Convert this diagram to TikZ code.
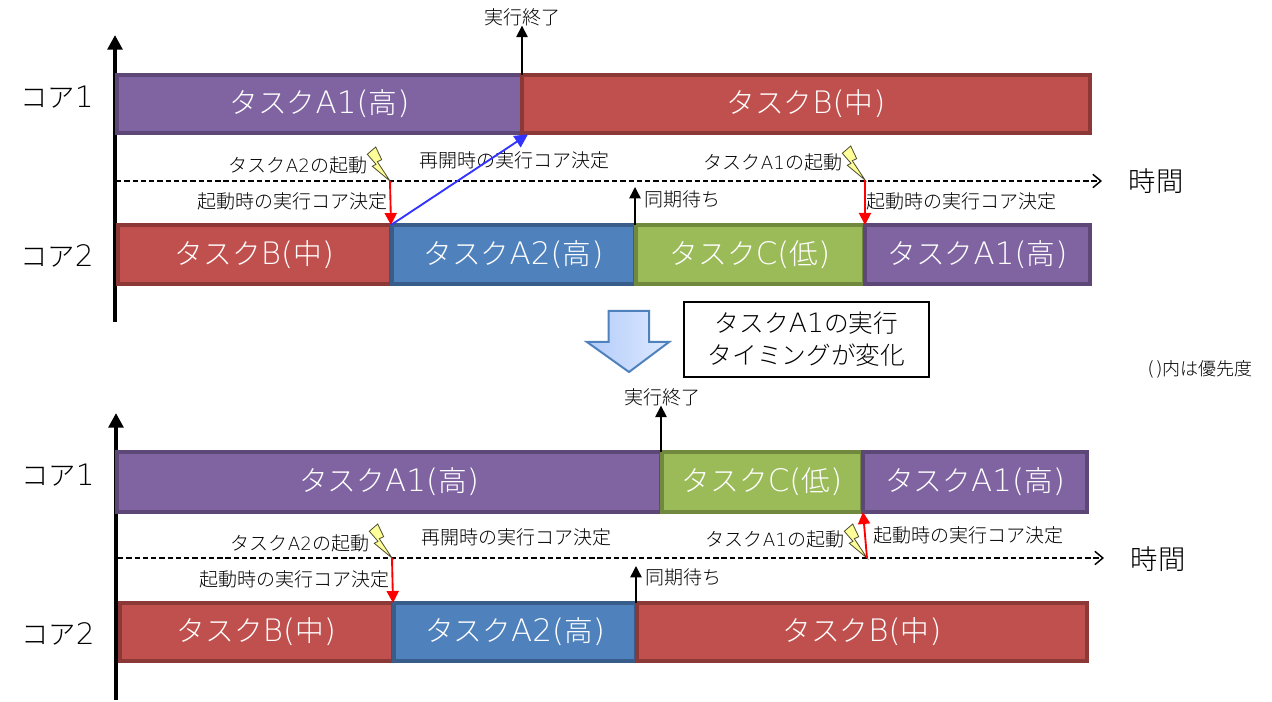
\documentclass[tikz,border=0pt]{standalone}
\usepackage{fontspec}
\setmainfont{Noto Sans CJK JP Light}
\newfontfamily\latinpart[Scale=1.08]{DejaVu Sans ExtraLight}
\newfontfamily\latinsmall[Scale=0.96]{DejaVu Sans ExtraLight}
\usetikzlibrary{arrows.meta,shadings}
\definecolor{purpF}{HTML}{8064A2}\definecolor{purpD}{HTML}{5C4776}
\definecolor{redF}{HTML}{C0504D}\definecolor{redD}{HTML}{8C3836}
\definecolor{bluF}{HTML}{4F81BD}\definecolor{bluD}{HTML}{385D8A}
\definecolor{grnF}{HTML}{9BBB59}\definecolor{grnD}{HTML}{71893F}
\definecolor{arrowL}{HTML}{B3CCFA}\definecolor{arrowR}{HTML}{DDE9FF}
\definecolor{boltF}{HTML}{FFFF99}
\newcommand{\fsz}[1]{\fontsize{#1}{#1}\selectfont}
\newcommand{\la}[1]{{\latinpart #1}}
\newcommand{\las}[1]{{\latinsmall #1}}
\tikzset{
  x=0.75pt,y=-0.75pt,
  every node/.style={outer sep=0pt,inner sep=0pt,align=center},
  taskbar/.style={line width=2.6pt,text=white,font=\fsz{21.5}},
  purplebar/.style={taskbar,draw=purpD,fill=purpF},
  redbar/.style={taskbar,draw=redD,fill=redF},
  bluebar/.style={taskbar,draw=bluD,fill=bluF},
  greenbar/.style={taskbar,draw=grnD,fill=grnF},
  corelabel/.style={font=\fsz{20.5},text=black},
  smalllabel/.style={font=\fsz{14.25},text=black},
  axisline/.style={line width=3pt,-{Triangle[length=11pt,width=11pt]}},
  timeline/.style={line width=1.1pt,dash pattern=on 4pt off 2.2pt,-{Straight Barb[length=6pt,width=10pt]}},
  eventup/.style={line width=1.1pt,-{Triangle[length=8.5pt,width=8.5pt]}},
  redarrow/.style={line width=1.4pt,red,-{Triangle[length=9pt,width=9pt]}},
  bluearrow/.style={line width=1.4pt,blue!80!white,-{Triangle[length=10pt,width=10pt]}},
  boltshape/.style={draw=black!70!boltF,line width=0.6pt,fill=boltF,line join=miter},
}
% task bar spanning x1..x2, y1..y2; its text sits slightly above the middle
\newcommand{\taskbar}[7]{\node[#6,minimum width={(#3-#2)*0.75pt},minimum height={(#5-#4)*0.75pt}] (#1) at ({(#2+#3)/2},{(#4+#5)/2}) {\raisebox{2pt}{#7}};}
% lightning bolt whose lower tip lies on a named coordinate
\newcommand{\bolt}[1]{\filldraw[boltshape,shift={(#1)}] (-22.7,-26.7) -- (-14.3,-34) -- (-8.3,-21.3) -- (-12.7,-19.3) -- (0,0) -- (-17.7,-14.7) -- (-14,-16.7) -- cycle;}
\begin{document}
\begin{tikzpicture}
\useasboundingbox (0,0) rectangle (1272,702);

% upper schedule: time and core axes
\coordinate (axA0) at (115,322); \coordinate (axA1) at (115,35);
\coordinate (tA0) at (116,181); \coordinate (tA1) at (1102,181);
\draw[axisline] (axA0) -- (axA1);
\draw[timeline] (tA0) -- (tA1);
\node[corelabel] (timeA) at (1156,181) {時間};
\node[corelabel] (coreA1) at (57,97) {コア\la{1}};
\node[corelabel] (coreA2) at (57,256) {コア\la{2}};

\taskbar{a1}{117}{522}{75}{133}{purplebar}{タスク\la{A1(}高\la{)}}
\taskbar{a2}{522}{1090}{75}{133}{redbar}{タスク\la{B(}中\la{)}}
\taskbar{a3}{118}{391}{225}{284}{redbar}{タスク\la{B(}中\la{)}}
\taskbar{a4}{392}{635}{225}{284}{bluebar}{タスク\la{A2(}高\la{)}}
\taskbar{a5}{636}{864}{225}{284}{greenbar}{タスク\la{C(}低\la{)}}
\taskbar{a6}{865}{1090}{225}{284}{purplebar}{タスク\la{A1(}高\la{)}}

\node[smalllabel] (endA) at (522,17) {実行終了};
\draw[eventup] (a1.north east) -- (a1.north east |- endA.south);
\node[smalllabel,anchor=east] (lA1) at (367,165) {タスク\las{A2}の起動};
\node[smalllabel,anchor=east] (lA2) at (387,201) {起動時の実行コア決定};
\node[smalllabel] (lA3) at (514,160) {再開時の実行コア決定};
\node[smalllabel,anchor=east] (lA4) at (842,162) {タスク\las{A1}の起動};
\node[smalllabel,anchor=west] (lA5) at (866,201) {起動時の実行コア決定};
\node[smalllabel,anchor=west] (lA6) at (644,199) {同期待ち};
\coordinate (syncA) at (635,187);
\draw[eventup] (a4.north east) -- (syncA);
\coordinate (boltA1) at (390,181);
\coordinate (boltA2) at (865,180);
\bolt{boltA1}
\bolt{boltA2}
\draw[redarrow] (boltA1) -- (a3.north east);
\draw[redarrow] (boltA2) -- (a6.north west);
\draw[bluearrow] (a3.north east) -- ([shift={(4.5pt,-1pt)}]a2.south west);

% transition between the two schedules
\path[left color=arrowL,right color=arrowR,draw=bluF,line width=1.5pt,line join=miter]
  (608.5,311) -- (649,311) -- (649,342) -- (669,342) -- (629,372) -- (587,342) -- (608.5,342) -- cycle;
\node[draw=black,line width=1.5pt,fill=white,minimum width=183.75pt,minimum height=56.25pt,font=\fsz{18.5},text=black] (note) at (806.5,339.5) {\raisebox{2pt}{タスク\la{A1}の実行}\\[5pt]\raisebox{2pt}{タイミングが変化}};
\node[font=\fsz{13.5},text=black] (prio) at (1200,369) {\la{()}内は優先度};

% lower schedule
\coordinate (axB0) at (116,700); \coordinate (axB1) at (116,413);
\coordinate (tB0) at (118,558); \coordinate (tB1) at (1104,558);
\draw[axisline] (axB0) -- (axB1);
\draw[timeline] (tB0) -- (tB1);
\node[corelabel] (timeB) at (1158,559) {時間};
\node[corelabel] (coreB1) at (58,475) {コア\la{1}};
\node[corelabel] (coreB2) at (58,634) {コア\la{2}};

\taskbar{b1}{117}{661}{452}{512}{purplebar}{タスク\la{A1(}高\la{)}}
\taskbar{b2}{662}{862}{452}{512}{greenbar}{タスク\la{C(}低\la{)}}
\taskbar{b3}{863}{1087}{452}{512}{purplebar}{タスク\la{A1(}高\la{)}}
\taskbar{b4}{120}{393}{603}{661}{redbar}{タスク\la{B(}中\la{)}}
\taskbar{b5}{394}{636}{603}{661}{bluebar}{タスク\la{A2(}高\la{)}}
\taskbar{b6}{637}{1087}{603}{661}{redbar}{タスク\la{B(}中\la{)}}

\node[smalllabel] (endB) at (662,397) {実行終了};
\draw[eventup] (b1.north east) -- (b1.north east |- endB.south);
\node[smalllabel,anchor=east] (lB1) at (369,543) {タスク\las{A2}の起動};
\node[smalllabel,anchor=east] (lB2) at (389,579) {起動時の実行コア決定};
\node[smalllabel] (lB3) at (516,537) {再開時の実行コア決定};
\node[smalllabel,anchor=east] (lB4) at (844,539) {タスク\las{A1}の起動};
\node[smalllabel,anchor=west] (lB5) at (873,535) {起動時の実行コア決定};
\node[smalllabel,anchor=west] (lB6) at (645,577) {同期待ち};
\coordinate (syncB) at (636,566);
\draw[eventup] (b5.north east) -- (syncB);
\coordinate (boltB1) at (392,558);
\coordinate (boltB2) at (867,558);
\bolt{boltB1}
\bolt{boltB2}
\draw[redarrow] (boltB1) -- (b4.north east);
\draw[redarrow] (boltB2) -- (b3.south west);
\end{tikzpicture}
\end{document}
